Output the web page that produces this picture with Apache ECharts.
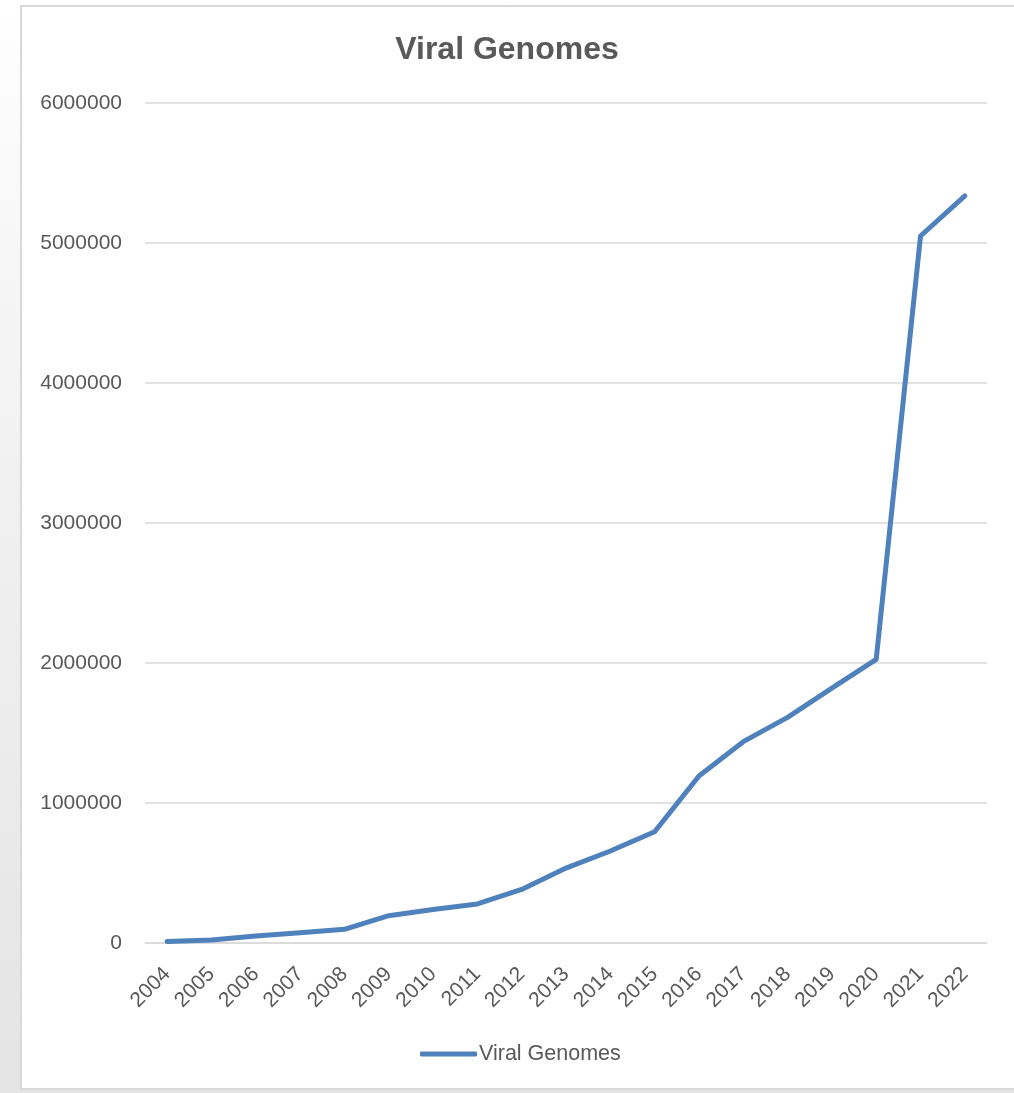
<!DOCTYPE html>
<html>
<head>
<meta charset="utf-8">
<title>Viral Genomes</title>
<script src="https://cdn.jsdelivr.net/npm/echarts@6/dist/echarts.min.js"></script>
<style>
  html, body { margin: 0; padding: 0; width: 1014px; height: 1093px; overflow: hidden; }
  body { background: linear-gradient(180deg, #ffffff 0%, #f4f4f4 30%, #e4e4e4 100%); position: relative; }
  #frame { position: absolute; left: 20px; top: 5px; width: 1010px; height: 1085px;
           background: #ffffff; border: 2px solid #d9d9d9; box-sizing: border-box; }
  #chart { position: absolute; left: 0; top: 0; width: 1014px; height: 1093px; }
</style>
</head>
<body>
<div id="frame"></div>
<div id="chart"></div>
<script>
// Cumulative number of viral genome sequences per year
const years = ['2004','2005','2006','2007','2008','2009','2010','2011','2012','2013',
               '2014','2015','2016','2017','2018','2019','2020','2021','2022'];
const viralGenomes = [10000, 21000, 50000, 73000, 98000, 195000, 240000, 279000, 383000, 535000,
                      657000, 795000, 1193000, 1438000, 1612000, 1820000, 2026000, 5050000, 5336000];
const yTicks = { min: 0, max: 6000000, step: 1000000 };

const textColor = '#595959';
const lineColor = '#4f81bd';
const fontFamily = '"Liberation Sans", Arial, sans-serif';

const chart = echarts.init(document.getElementById('chart'), null, { renderer: 'canvas' });
chart.setOption({
  backgroundColor: 'transparent',
  animation: false,
  title: {
    text: 'Viral Genomes',
    left: 'center',
    top: 34,
    padding: 0,
    textStyle: { color: textColor, fontSize: 32, fontWeight: 'bold', fontFamily: fontFamily }
  },
  legend: {
    top: 1043,
    left: 420,
    padding: 0,
    itemWidth: 57,
    itemHeight: 5,
    icon: 'roundRect',
    textStyle: { color: textColor, fontSize: 21.5, fontFamily: fontFamily, padding: [0, 0, 0, -3] },
    data: ['Viral Genomes']
  },
  grid: { left: 145, right: 27, top: 103, bottom: 150, containLabel: false },
  xAxis: {
    type: 'category',
    data: years,
    boundaryGap: true,
    axisLine: { show: true, lineStyle: { color: '#d9d9d9', width: 1.5 } },
    axisTick: { show: false },
    axisLabel: { rotate: 45, margin: 28, color: textColor, fontSize: 21, fontFamily: fontFamily, interval: 0 }
  },
  yAxis: {
    type: 'value',
    min: yTicks.min,
    max: yTicks.max,
    interval: yTicks.step,
    axisLine: { show: false },
    axisTick: { show: false },
    axisLabel: { margin: 23, color: textColor, fontSize: 21, fontFamily: fontFamily,
                 formatter: function (v) { return String(v); } },
    splitLine: { show: true, lineStyle: { color: '#d9d9d9', width: 1.5 } }
  },
  series: [{
    name: 'Viral Genomes',
    type: 'line',
    data: viralGenomes,
    symbol: 'none',
    lineStyle: { color: lineColor, width: 5, cap: 'round', join: 'round' },
    itemStyle: { color: lineColor }
  }]
});
</script>
</body>
</html>
